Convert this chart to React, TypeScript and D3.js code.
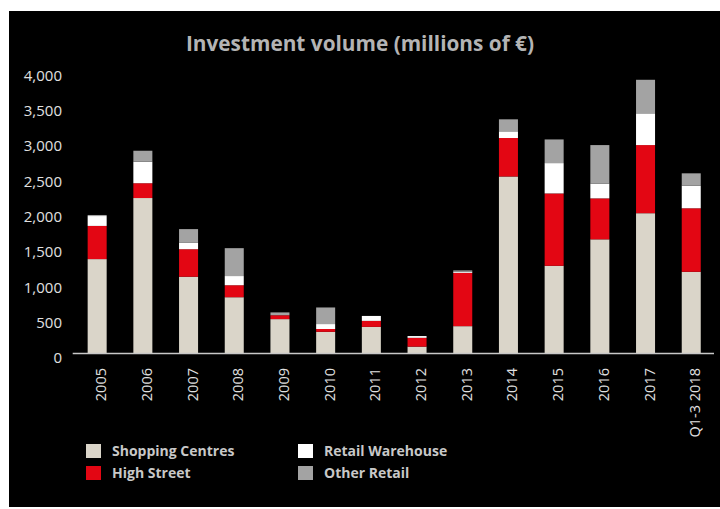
import * as d3 from "d3";

const categories = ["2005", "2006", "2007", "2008", "2009", "2010", "2011", "2012", "2013", "2014", "2015", "2016", "2017", "Q1-3 2018"];
const shoppingCentres = [1330, 2195, 1080, 790, 480, 300, 370, 90, 380, 2500, 1235, 1610, 1980, 1150];
const highStreet = [470, 210, 390, 170, 55, 40, 85, 125, 755, 545, 1025, 580, 965, 900];
const retailWarehouse = [140, 305, 95, 130, 0, 70, 70, 25, 15, 95, 430, 210, 450, 320];
const otherRetail = [15, 155, 190, 395, 40, 235, 0, 0, 20, 170, 335, 545, 475, 175];
const yTicks = [0, 500, 1000, 1500, 2000, 2500, 3000, 3500, 4000];

const seriesKeys = ["Shopping Centres", "High Street", "Retail Warehouse", "Other Retail"];
const seriesValues = [shoppingCentres, highStreet, retailWarehouse, otherRetail];
const colors = ["#dad5c9", "#e30613", "#ffffff", "#a3a3a3"];

const W = 720, H = 509;
const font = "'Open Sans', 'DejaVu Sans', sans-serif";

export default function App() {
  const rows = categories.map((c, i) => {
    const r: any = { cat: c };
    seriesKeys.forEach((k, j) => (r[k] = seriesValues[j][i]));
    return r;
  });
  const stacked = d3.stack().keys(seriesKeys)(rows);

  const x = d3.scaleBand().domain(categories).range([74.4, 714]).paddingInner(0.584).paddingOuter(0.29);
  const y = d3.scaleLinear().domain([0, 4000]).range([353, 70.6]);
  const fmt = d3.format(",");

  return (
    <svg width={W} height={H} style={{ position: "absolute", left: 0, top: 0 }}>
      <rect width={W} height={H} fill="#fff" />
      <rect x={9} y={11} width={W - 9} height={496} fill="#000" />

      <text x={360} y={51} textAnchor="middle" fill="#b4b4b4" fontFamily={font} fontWeight="bold" fontSize={20.8}>
        Investment volume (millions of €)
      </text>

      {yTicks.map((t) => (
        <text key={t} x={62} y={y(t) + 5} dy="0.35em" textAnchor="end" fill="#e0e0e0" fontFamily={font} fontSize={15}>
          {fmt(t)}
        </text>
      ))}

      {stacked.map((s, j) => (
        <g key={s.key} fill={colors[j]}>
          {s.map((d, i) => (
            <rect
              key={i}
              x={x(categories[i])}
              y={y(d[1])}
              width={x.bandwidth()}
              height={Math.max(0, y(d[0]) - y(d[1]))}
            />
          ))}
        </g>
      ))}

      <line x1={72.7} x2={714} y1={353.6} y2={353.6} stroke="#c8c8c8" strokeWidth={1.5} />

      {categories.map((c) => (
        <text
          key={c}
          transform={`translate(${(x(c) as number) + x.bandwidth() / 2 + 9},368) rotate(-90)`}
          textAnchor="end"
          fill="#e0e0e0"
          fontFamily={font}
          fontSize={14.5}
        >
          {c}
        </text>
      ))}

      {seriesKeys.map((k, j) => {
        const col = j < 2 ? 86 : 298;
        const row = j % 2;
        const yy = 444 + row * 22;
        return (
          <g key={k}>
            <rect x={col} y={yy} width={15} height={14} fill={colors[j]} />
            <text x={col + 26} y={yy + 7} dy="0.35em" fill="#c8c8c8" fontFamily={font} fontWeight="bold" fontSize={14}>
              {k}
            </text>
          </g>
        );
      })}
    </svg>
  );
}
